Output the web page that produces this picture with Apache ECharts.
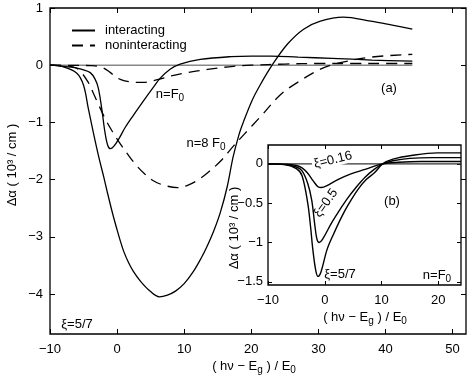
<!DOCTYPE html>
<html><head><meta charset="utf-8">
<script src="https://cdn.jsdelivr.net/npm/echarts@6/dist/echarts.min.js"></script>
<style>html,body{margin:0;padding:0;background:#fff}#c{width:469px;height:379px}</style>
</head><body><div id="c"></div>
<script>
// ---- main panel (a) data ----
const intF0_x = [-10,-8,-6,-5,-4,-3.3,-2.8,-2.3,-1.8,-1.4,-1.0,-0.5,0.3,1.2,2.4,4.2,5.5,6.4,7.9,9.4,12.4,17,20,23,27,32,38,44];
const intF0_y = [0,-0.02,-0.05,-0.08,-0.13,-0.24,-0.4,-0.75,-1.18,-1.4,-1.46,-1.42,-1.28,-1.09,-0.88,-0.58,-0.37,-0.23,-0.07,0.02,0.1,0.15,0.16,0.16,0.14,0.12,0.09,0.07];
const nonF0_x = [-10,-6,-4,-3,-2,-1,0,1,2,3,4,5,6.5,8,10,12,15,17.3,20,25,30,35,40,44];
const nonF0_y = [0,-0.003,-0.008,-0.015,-0.05,-0.13,-0.22,-0.27,-0.29,-0.3,-0.3,-0.28,-0.24,-0.19,-0.14,-0.1,-0.05,-0.02,0,0.02,0.03,0.03,0.03,0.03];
const int8F0_x = [-10,-8,-6,-5,-4.3,-3.5,-2.7,-2,-1.5,-0.7,0,0.5,1,1.7,2.4,3.5,4.9,6.3,7.5,8.7,10,11.3,12.5,13.4,14.4,15.4,16.4,17.3,18.2,18.8,20.1,21.3,23.1,25.4,27.8,30.3,33.7,37.8,41,44];
const int8F0_y = [0,-0.03,-0.14,-0.35,-0.75,-1.2,-1.62,-1.95,-2.2,-2.58,-2.88,-3.08,-3.26,-3.45,-3.6,-3.78,-3.95,-4.05,-4.02,-3.95,-3.82,-3.62,-3.38,-3.17,-2.9,-2.57,-2.13,-1.6,-1.2,-1.0,-0.62,-0.35,0,0.37,0.63,0.77,0.84,0.77,0.7,0.63];
const non8F0_x = [-10,-7,-5.8,-4.3,-3.5,-2.8,-1.8,-0.7,0.5,1.6,3,4.2,5.4,7,9,10.5,12,13.5,15.4,17.3,19,21.3,24.3,26.9,30.3,32.8,37.8,44];
const non8F0_y = [0,-0.02,-0.07,-0.3,-0.5,-0.68,-0.93,-1.16,-1.38,-1.56,-1.77,-1.91,-2.02,-2.1,-2.14,-2.1,-2.01,-1.88,-1.68,-1.42,-1.2,-0.91,-0.52,-0.3,-0.07,0.03,0.14,0.19];
const zero_x = [-10,44];
const zero_y = [0,0];
// ---- inset panel (b) data ----
const xi016_x = [-10,-7,-5,-4,-3,-2,-1.2,-0.6,0.3,2.3,4.5,7.1,10.2,13,17,24];
const xi016_y = [0,-0.005,-0.02,-0.05,-0.12,-0.22,-0.29,-0.3,-0.28,-0.2,-0.13,-0.07,0,0.02,0.03,0.03];
const xi05_x = [-10,-7,-5,-4,-3,-2.3,-1.8,-1.4,-1.0,-0.4,1.2,2.5,4.1,5.5,7.1,8.7,10.2,12,15,19,24];
const xi05_y = [0,-0.01,-0.04,-0.09,-0.25,-0.46,-0.75,-0.95,-1.0,-0.96,-0.75,-0.6,-0.43,-0.3,-0.17,-0.07,0,0.04,0.07,0.08,0.08];
const xi57_x = [-10,-7,-5,-4,-3,-2.5,-2.1,-1.6,-1.2,-0.7,0.4,1.5,3,4.3,5.8,7.3,8.8,10.2,12,15.5,19.8,24];
const xi57_y = [0,-0.01,-0.06,-0.15,-0.5,-0.8,-1.09,-1.35,-1.43,-1.38,-1.09,-0.9,-0.67,-0.5,-0.33,-0.2,-0.11,0,0.06,0.11,0.14,0.14];
const izero_x = [-10,24];
const izero_y = [0,0];
// ---- ticks ----
const main_x_ticks = [-10,0,10,20,30,40,50];
const main_y_ticks = [1,0,-1,-2,-3,-4];
const ins_x_ticks = [-10,0,10,20];
const ins_y_ticks = [0,-0.5,-1,-1.5];

const zip = (a,b)=>a.map((v,i)=>[v,b[i]]);
const fmt = v => String(v).replace('-', '\u2212');
const FONT = 'Liberation Sans, Arial, sans-serif';
const lab = {fontFamily: FONT, fontSize: 13, color: '#000'};

function axis(grid, pos, min, max, ticks, showLabel, margin, z) {
  return {
    type: 'value', gridIndex: grid, position: pos, min: min, max: max, z: z,
    axisLine: {show: false, onZero: false}, splitLine: {show: false},
    axisTick: {show: true, inside: true, length: grid === 0 ? 5 : 4, customValues: ticks, lineStyle: {color: '#000', width: 1}},
    axisLabel: {show: showLabel, customValues: ticks, formatter: fmt, margin: margin, ...lab}
  };
}

const chart = echarts.init(document.getElementById('c'), null, {renderer: 'canvas'});
const lineS = (name, xi, yi, x, y, dash, z, width, color) => ({
  type: 'line', name: name, xAxisIndex: xi, yAxisIndex: yi, data: zip(x, y),
  showSymbol: false, symbol: 'none', smooth: 0.35, z: z, animation: false,
  itemStyle: {color: color || '#000'},
  lineStyle: {color: color || '#000', width: width || 1.3, type: dash ? [11,7] : 'solid'}
});

const sub = {fontFamily: FONT, fontSize: 10, color: '#000', padding: [9,0,0,0]};
const txt = (x, y, text, opts) => Object.assign({
  type: 'text', x: x, y: y, z: 20,
  style: Object.assign({text: text, font: '13px ' + FONT, fill: '#000', textAlign: 'center', textVerticalAlign: 'middle', rich: {s: sub, n: {fontFamily: FONT, fontSize: 13, color: '#000'}}}, opts && opts.style || {})
}, opts && opts.el || {});

chart.setOption({
  animation: false,
  backgroundColor: '#fff',
  grid: [
    {left: 50, top: 8, width: 416, height: 326, show: true, borderColor: '#000', borderWidth: 1.3, backgroundColor: 'transparent', z: 0},
    {left: 268, top: 145, width: 193, height: 140, show: true, borderColor: '#000', borderWidth: 1.3, backgroundColor: '#fff', z: 5}
  ],
  xAxis: [
    axis(0, 'bottom', -10, 52, main_x_ticks, true, 9, 1),
    axis(0, 'top', -10, 52, main_x_ticks, false, 8, 1),
    axis(1, 'bottom', -10, 24, ins_x_ticks, true, 9, 6),
    axis(1, 'top', -10, 24, ins_x_ticks, false, 8, 6)
  ],
  yAxis: [
    axis(0, 'left', -4.7, 1, main_y_ticks, true, 7, 1),
    axis(0, 'right', -4.7, 1, main_y_ticks, false, 8, 1),
    axis(1, 'left', -1.54, 0.24, ins_y_ticks, true, 5, 6),
    axis(1, 'right', -1.54, 0.24, ins_y_ticks, false, 8, 6)
  ],
  legend: {
    orient: 'vertical', left: 66, top: 19, itemWidth: 23, itemHeight: 14, itemGap: 2,
    data: ['interacting', 'noninteracting'],
    itemStyle: {opacity: 0},
    textStyle: {fontFamily: FONT, fontSize: 13, color: '#000', padding: [0,0,0,5]},
    selectedMode: false
  },
  series: [
    lineS('zero', 0, 0, zero_x, zero_y, false, 1, 1.4, '#888'),
    lineS('interacting', 0, 0, intF0_x, intF0_y, false, 2),
    lineS('noninteracting', 0, 0, nonF0_x, nonF0_y, true, 2),
    lineS('interacting', 0, 0, int8F0_x, int8F0_y, false, 2),
    lineS('noninteracting', 0, 0, non8F0_x, non8F0_y, true, 2),
    lineS('izero', 2, 2, izero_x, izero_y, false, 7, 1.3, '#333'),
    lineS('xi016', 2, 2, xi016_x, xi016_y, false, 8, 1.4),
    lineS('xi05', 2, 2, xi05_x, xi05_y, false, 8, 1.4),
    lineS('xi57', 2, 2, xi57_x, xi57_y, false, 8, 1.4)
  ],
  graphic: [
    txt(254, 366, '{n|( h\u03bd \u2212 E}{s|g}{n| ) / E}{s|0}'),
    txt(12, 165, 'Δα ( 10³ / cm )', {el: {rotation: Math.PI / 2}}),
    txt(365, 317, '{n|( h\u03bd \u2212 E}{s|g}{n| ) / E}{s|0}'),
    txt(234, 228, 'Δα ( 10³ / cm )', {el: {rotation: Math.PI / 2}}),
    txt(170, 94, '{n|n=F}{s|0}'),
    txt(206, 143, '{n|n=8 F}{s|0}'),
    txt(389, 88, '(a)'),
    txt(77, 324, 'ξ=5/7'),
    txt(392, 201, '(b)'),
    txt(437, 275, '{n|n=F}{s|0}'),
    txt(340, 274, 'ξ=5/7'),
    txt(333, 160, 'ξ=0.16', {el: {rotation: 0.24}, style: {backgroundColor: '#fff', padding: [0,2,0,2]}}),
    txt(326, 203, 'ξ=0.5', {el: {rotation: 0.95}})
  ]
});
</script></body></html>
